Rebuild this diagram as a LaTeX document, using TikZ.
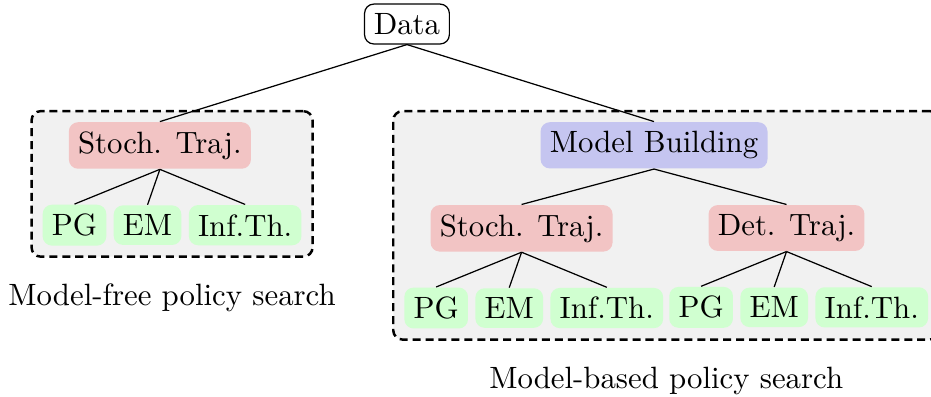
\documentclass[tikz,border=0pt]{standalone}
\usepackage{tikz}
\usetikzlibrary{positioning,fit,backgrounds}
\definecolor{TrajRed}{HTML}{F2C4C4}
\definecolor{ModelBlue}{HTML}{C5C5F0}
\definecolor{LeafGreen}{HTML}{D0FFD0}
\definecolor{GroupGray}{HTML}{F1F1F1}

\begin{document}
\begin{tikzpicture}[
  root/.style={draw,rounded corners=3pt,inner sep=3pt},
  traj/.style={fill=TrajRed,rounded corners=3pt,inner sep=3pt},
  model/.style={fill=ModelBlue,rounded corners=3pt,inner sep=3pt},
  leaf/.style={fill=LeafGreen,rounded corners=3pt,inner sep=3pt},
  group/.style={draw,thick,dash pattern=on 2.6pt off 1.6pt,rounded corners=3pt,fill=GroupGray,inner sep=3.4pt}
]
\useasboundingbox (-132.1pt,-120.8pt) rectangle (170.1pt,7.8pt);
\node[root] (data) at (0,0) {Data};
% model-free branch
\node[traj,below=25pt of data,xshift=-80.2pt] (freetraj) {Stoch. Traj.};
\node[leaf,below=11.5pt of freetraj,xshift=-4pt] (em1) {EM};
\node[leaf,left=2pt of em1] (pg1) {PG};
\node[leaf,right=2pt of em1] (inf1) {Inf.Th.};
% model-based branch
\node[model,below=25pt of data,xshift=80.2pt] (buildmodel) {Model Building};
\node[traj,below=11.5pt of buildmodel,xshift=-43pt] (stochtraj) {Stoch. Traj.};
\node[traj,below=11.5pt of buildmodel,xshift=43pt] (dettraj) {Det. Traj.};
\node[leaf,below=11.5pt of stochtraj,xshift=-4pt] (em2) {EM};
\node[leaf,left=2pt of em2] (pg2) {PG};
\node[leaf,right=2pt of em2] (inf2) {Inf.Th.};
\node[leaf,below=11.5pt of dettraj,xshift=-4pt] (em3) {EM};
\node[leaf,left=2pt of em3] (pg3) {PG};
\node[leaf,right=2pt of em3] (inf3) {Inf.Th.};
\begin{scope}[on background layer]
\node[group,fit=(freetraj)(pg1)(inf1)] (freebox) {};
\node[group,fit=(buildmodel)(pg2)(inf3)] (basedbox) {};
\end{scope}
\node[below=5pt of freebox] (freelabel) {Model-free policy search};
\node[below=5pt of basedbox] (basedlabel) {Model-based policy search};
\draw (data.south) -- (freetraj.north);
\draw (data.south) -- (buildmodel.north);
\draw (freetraj.south) -- (pg1.north);
\draw (freetraj.south) -- (em1.north);
\draw (freetraj.south) -- (inf1.north);
\draw (buildmodel.south) -- (stochtraj.north);
\draw (buildmodel.south) -- (dettraj.north);
\draw (stochtraj.south) -- (pg2.north);
\draw (stochtraj.south) -- (em2.north);
\draw (stochtraj.south) -- (inf2.north);
\draw (dettraj.south) -- (pg3.north);
\draw (dettraj.south) -- (em3.north);
\draw (dettraj.south) -- (inf3.north);
\end{tikzpicture}
\end{document}
